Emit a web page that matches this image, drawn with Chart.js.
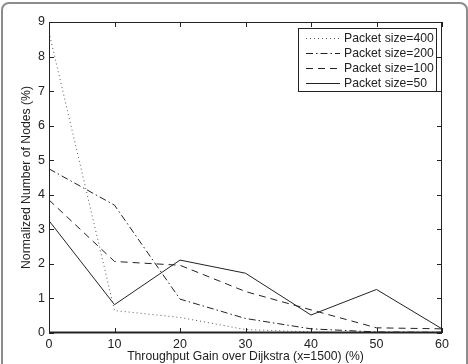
<!DOCTYPE html>
<html>
<head>
<meta charset="utf-8">
<script src="https://cdn.jsdelivr.net/npm/chart.js@4/dist/chart.umd.min.js"></script>
<style>
    html, body { margin: 0; padding: 0; background: #fff; }
    #wrap {
        position: relative;
        width: 468px;
        height: 364px;
        overflow: hidden;
    }
    #frame {
        position: absolute;
        left: 1px; top: 2px;
        width: 463px; height: 380px;
        border: 2px solid #8c8c8c;
        border-radius: 8px;
        pointer-events: none;
    }
    canvas { display: block; }
</style>
</head>
<body>
<div id="wrap">
    <canvas id="chart" width="468" height="364"></canvas>
    <div id="frame"></div>
</div>
<script>
// Data
const gains = [0, 10, 20, 30, 40, 50, 60];
const packet400 = [8.7, 0.65, 0.45, 0.1, 0.03, 0.0, 0.0];
const packet200 = [4.75, 3.7, 0.98, 0.42, 0.12, 0.03, 0.02];
const packet100 = [3.85, 2.07, 1.96, 1.2, 0.67, 0.15, 0.12];
const packet50 = [3.25, 0.82, 2.11, 1.73, 0.52, 1.26, 0.12];

const xTicks = [0, 10, 20, 30, 40, 50, 60];
const yTicks = [0, 1, 2, 3, 4, 5, 6, 7, 8, 9];

const fontFamily = '"Liberation Sans", Arial, Helvetica, sans-serif';

function toPoints(values) {
    return gains.map((g, i) => ({ x: g, y: values[i] }));
}

function makeSet(label, values, dash, color) {
    return {
        label: label,
        data: toPoints(values),
        borderColor: color,
        borderWidth: 1,
        borderDash: dash,
        pointRadius: 0,
        fill: false,
        tension: 0
    };
}

// Inward ticks on all four sides plus the box round the axes
const boxTicks = {
    id: 'boxTicks',
    afterDraw(chart) {
        const ctx = chart.ctx;
        const area = chart.chartArea;
        const xs = chart.scales.x;
        const ys = chart.scales.y;
        ctx.save();
        ctx.strokeStyle = '#222';
        ctx.lineWidth = 1;
        ctx.setLineDash([]);
        ctx.strokeRect(area.left + 0.5, area.top + 0.5, area.right - area.left - 1, area.bottom - area.top - 1);
        ctx.lineWidth = 2;
        ctx.beginPath();
        ctx.moveTo(area.left, area.bottom - 0.5);
        ctx.lineTo(area.right, area.bottom - 0.5);
        ctx.stroke();
        ctx.lineWidth = 1;
        const len = 5;
        ctx.beginPath();
        xTicks.forEach(v => {
            const px = Math.round(xs.getPixelForValue(v)) + 0.5;
            ctx.moveTo(px, area.bottom);
            ctx.lineTo(px, area.bottom - len);
            ctx.moveTo(px, area.top);
            ctx.lineTo(px, area.top + len);
        });
        yTicks.forEach(v => {
            const py = Math.round(ys.getPixelForValue(v)) + 0.5;
            ctx.moveTo(area.left, py);
            ctx.lineTo(area.left + len, py);
            ctx.moveTo(area.right, py);
            ctx.lineTo(area.right - len, py);
        });
        ctx.stroke();
        ctx.restore();
    }
};

// MATLAB style legend box in the upper right corner
const boxLegend = {
    id: 'boxLegend',
    afterDraw(chart) {
        const ctx = chart.ctx;
        const area = chart.chartArea;
        const sets = chart.data.datasets;
        const w = 138, rowH = 15;
        const h = 63;
        const left = area.right - 6 - w;
        const top = area.top + 6;
        ctx.save();
        ctx.fillStyle = '#fff';
        ctx.fillRect(left, top, w, h);
        ctx.strokeStyle = '#222';
        ctx.lineWidth = 1;
        ctx.setLineDash([]);
        ctx.strokeRect(left + 0.5, top + 0.5, w, h);
        ctx.font = '12.2px ' + fontFamily;
        ctx.textBaseline = 'middle';
        sets.forEach((ds, i) => {
            const cy = top + 9.5 + i * rowH;
            ctx.strokeStyle = ds.borderColor;
            ctx.lineWidth = ds.borderWidth;
            ctx.setLineDash(ds.borderDash || []);
            ctx.beginPath();
            ctx.moveTo(left + 8, Math.round(cy) + 0.5);
            ctx.lineTo(left + 42, Math.round(cy) + 0.5);
            ctx.stroke();
            ctx.setLineDash([]);
            ctx.fillStyle = '#222';
            ctx.fillText(ds.label, left + 46, cy + 1);
        });
        ctx.restore();
    }
};

const ctx = document.getElementById('chart').getContext('2d');
new Chart(ctx, {
    type: 'line',
    data: {
        datasets: [
            makeSet('Packet size=400', packet400, [1, 3], '#555'),
            makeSet('Packet size=200', packet200, [7, 3, 1.5, 3], '#222'),
            makeSet('Packet size=100', packet100, [7, 5], '#222'),
            makeSet('Packet size=50', packet50, [], '#222')
        ]
    },
    options: {
        responsive: false,
        animation: false,
        layout: { padding: { left: 0, right: 26, top: 22, bottom: 0 } },
        plugins: {
            legend: { display: false },
            tooltip: { enabled: false }
        },
        scales: {
            x: {
                type: 'linear',
                min: 0,
                max: 60,
                afterBuildTicks: s => { s.ticks = xTicks.map(v => ({ value: v })); },
                afterFit: s => { s.height = 31; },
                grid: { display: false, drawTicks: false },
                border: { display: false },
                ticks: {
                    padding: 4,
                    color: '#222',
                    maxRotation: 0,
                    font: { family: fontFamily, size: 12.5 }
                },
                title: {
                    display: true,
                    text: 'Throughput Gain over Dijkstra (x=1500) (%)',
                    color: '#222',
                    padding: { top: 0, bottom: 0 },
                    font: { family: fontFamily, size: 12.2 }
                }
            },
            y: {
                type: 'linear',
                min: 0,
                max: 9,
                afterBuildTicks: s => { s.ticks = yTicks.map(v => ({ value: v })); },
                afterFit: s => { s.width = 49; },
                grid: { display: false, drawTicks: false },
                border: { display: false },
                ticks: {
                    padding: 4,
                    color: '#222',
                    font: { family: fontFamily, size: 12.5 }
                },
                title: {
                    display: true,
                    text: 'Normalized Number of Nodes (%)',
                    color: '#222',
                    padding: { top: 19, bottom: 0 },
                    font: { family: fontFamily, size: 12.2 }
                }
            }
        }
    },
    plugins: [boxTicks, boxLegend]
});
</script>
</body>
</html>
